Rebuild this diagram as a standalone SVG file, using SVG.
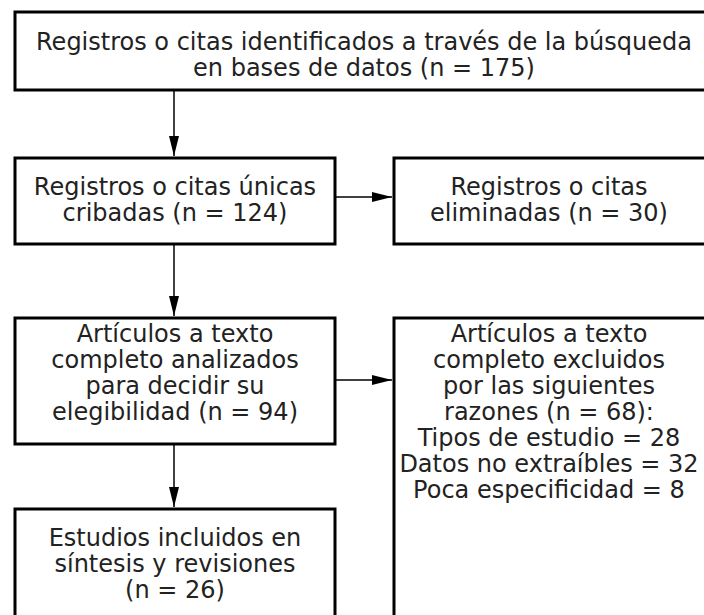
<svg xmlns="http://www.w3.org/2000/svg" width="704" height="615" viewBox="0 0 704 615">
<defs>
<style>
.box{fill:#fff;stroke:#000;stroke-width:3}
.t{font-family:"DejaVu Sans","Verdana",sans-serif;font-size:24px;fill:#222;text-anchor:middle}
.c{stroke:#000;stroke-width:1.5;fill:none}
</style>
<marker id="ah2" markerWidth="20" markerHeight="10" refX="20" refY="5" orient="auto" markerUnits="userSpaceOnUse" viewBox="0 0 20 10">
<path d="M0,0 L20,5 L0,10 Z" fill="#000"/>
</marker>
</defs>
<rect width="704" height="615" fill="#fff"/>
<g id="n1">
<rect class="box" x="15" y="12" width="700" height="78"/>
<text class="t" x="364" y="50">Registros o citas identificados a través de la búsqueda</text>
<text class="t" x="364" y="76">en bases de datos (n = 175)</text>
</g>
<g id="n2">
<rect class="box" x="15" y="158" width="320" height="86"/>
<text class="t" x="175" y="195">Registros o citas únicas</text>
<text class="t" x="175" y="221">cribadas (n = 124)</text>
</g>
<g id="n3">
<rect class="box" x="394" y="158" width="316" height="86"/>
<text class="t" x="549" y="195">Registros o citas</text>
<text class="t" x="549" y="221">eliminadas (n = 30)</text>
</g>
<g id="n4">
<rect class="box" x="15" y="318" width="320" height="126"/>
<text class="t" x="175" y="342">Artículos a texto</text>
<text class="t" x="175" y="368">completo analizados</text>
<text class="t" x="175" y="394">para decidir su</text>
<text class="t" x="175" y="420">elegibilidad (n = 94)</text>
</g>
<g id="n5">
<rect class="box" x="394" y="318" width="312" height="310"/>
<text class="t" x="549" y="342">Artículos a texto</text>
<text class="t" x="549" y="368">completo excluidos</text>
<text class="t" x="549" y="394">por las siguientes</text>
<text class="t" x="549" y="420">razones (n = 68):</text>
<text class="t" x="549" y="446">Tipos de estudio = 28</text>
<text class="t" x="549" y="472">Datos no extraíbles = 32</text>
<text class="t" x="549" y="498">Poca especificidad = 8</text>
</g>
<g id="n6">
<rect class="box" x="15" y="509" width="320" height="120"/>
<text class="t" x="175" y="546">Estudios incluidos en</text>
<text class="t" x="175" y="572">síntesis y revisiones</text>
<text class="t" x="175" y="598">(n = 26)</text>
</g>
<g id="connectors">
<line class="c" x1="174" y1="91" x2="174" y2="156" marker-end="url(#ah2)"/>
<line class="c" x1="174" y1="245" x2="174" y2="316" marker-end="url(#ah2)"/>
<line class="c" x1="174" y1="445" x2="174" y2="507" marker-end="url(#ah2)"/>
<line class="c" x1="336" y1="197" x2="392" y2="197" marker-end="url(#ah2)"/>
<line class="c" x1="336" y1="380" x2="392" y2="380" marker-end="url(#ah2)"/>
</g>
</svg>
